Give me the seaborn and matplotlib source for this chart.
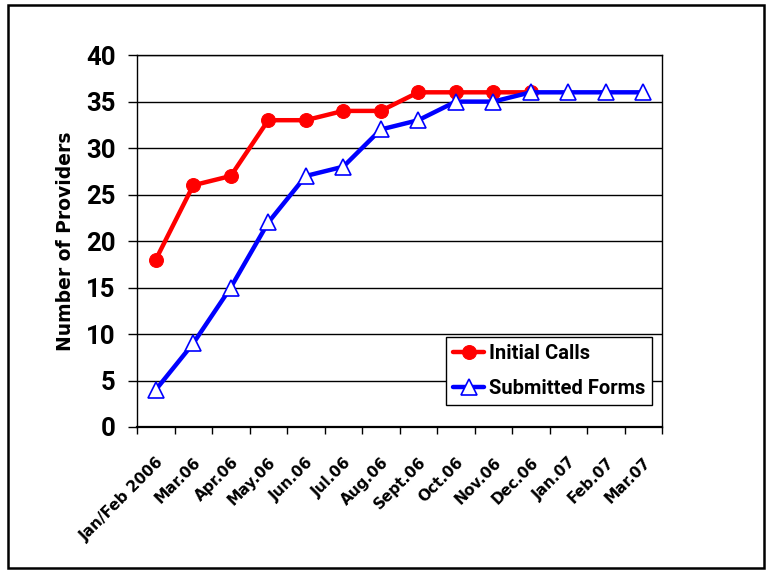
import matplotlib
matplotlib.use("Agg")
import matplotlib.pyplot as plt
import matplotlib.transforms as mtransforms
import seaborn as sns
import pandas as pd
from matplotlib.patches import Rectangle

months = ["Jan/Feb 2006", "Mar.06", "Apr.06", "May.06", "Jun.06", "Jul.06",
          "Aug.06", "Sept.06", "Oct.06", "Nov.06", "Dec.06", "Jan.07",
          "Feb.07", "Mar.07"]
initial_calls = [18, 26, 27, 33, 33, 34, 34, 36, 36, 36, 36]
submitted_forms = [4, 9, 15, 22, 27, 28, 32, 33, 35, 35, 36, 36, 36, 36]
y_ticks = [0, 5, 10, 15, 20, 25, 30, 35, 40]

sns.set_theme(style="white")
plt.rcParams["font.family"] = ["DejaVu Sans"]
plt.rcParams["text.color"] = "black"
plt.rcParams["axes.labelcolor"] = "black"
plt.rcParams["xtick.color"] = "black"
plt.rcParams["ytick.color"] = "black"

calls_df = pd.DataFrame({"pos": range(len(initial_calls)), "value": initial_calls})
forms_df = pd.DataFrame({"pos": range(len(submitted_forms)), "value": submitted_forms})

fig = plt.figure(figsize=(7.71, 5.73), dpi=100)
ax = fig.add_axes([0.1777, 0.2548, 0.681, 0.649])

sns.lineplot(data=calls_df, x="pos", y="value", ax=ax, color="#ff0000",
             linewidth=3.2, marker="o", markersize=10, markeredgecolor="#ff0000",
             markerfacecolor="#ff0000", label="Initial Calls", zorder=3)
sns.lineplot(data=forms_df, x="pos", y="value", ax=ax, color="#0000ff",
             linewidth=3.2, marker="^", markersize=12, markeredgecolor="#0000ff",
             markerfacecolor="white", markeredgewidth=1.2,
             label="Submitted Forms", zorder=4)

ax.set_xlim(-0.5, len(months) - 0.5)
ax.set_ylim(0, 40)
ax.set_yticks(y_ticks)
ax.set_yticklabels([str(v) for v in y_ticks], fontsize=18.5, fontweight="bold",
                   family="Roboto")
ax.yaxis.grid(True, color="black", linewidth=1.0)
ax.xaxis.grid(False)

# category labels sit between the boundary ticks
ax.set_xticks([i - 0.5 for i in range(len(months) + 1)])
ax.set_xticklabels([])
ax.set_xticks(list(range(len(months))), minor=True)
ax.set_xticklabels(months, minor=True, rotation=45, ha="right",
                   rotation_mode="anchor", fontsize=11, fontweight="bold")
shift = mtransforms.ScaledTranslation(4 / 100, 0, fig.dpi_scale_trans)
for lbl in ax.get_xticklabels(minor=True):
    lbl.set_transform(lbl.get_transform() + shift)
ax.tick_params(axis="x", which="major", direction="out", length=5, width=1,
               color="black", bottom=True)
ax.tick_params(axis="x", which="minor", length=0, pad=20)
ax.tick_params(axis="y", direction="out", length=6.5, width=1, color="black",
               left=True, pad=9)

for side in ["left", "right", "top", "bottom"]:
    ax.spines[side].set_visible(True)
    ax.spines[side].set_color("black")
    ax.spines[side].set_linewidth(1.0)
ax.spines["bottom"].set_linewidth(1.6)

ax.set_xlabel("")
ax.set_ylabel("Number of Providers", fontsize=13.5, fontweight="bold")
ax.yaxis.set_label_coords(-0.118, 0.5)

leg = ax.legend(loc="lower right", bbox_to_anchor=(0.981, 0.059), borderaxespad=0,
                frameon=True, fancybox=False, edgecolor="black", framealpha=1,
                prop={"weight": "bold", "size": 14.5, "family": "Roboto"},
                handlelength=1.5, handletextpad=0.25, borderpad=0.35,
                labelspacing=0.8)
leg.get_frame().set_linewidth(1.0)

fig.patches.append(Rectangle((0.0105, 0.009), 0.981, 0.982, transform=fig.transFigure,
                             fill=False, edgecolor="black", linewidth=1.8))

fig.savefig("out.png", dpi=100)
